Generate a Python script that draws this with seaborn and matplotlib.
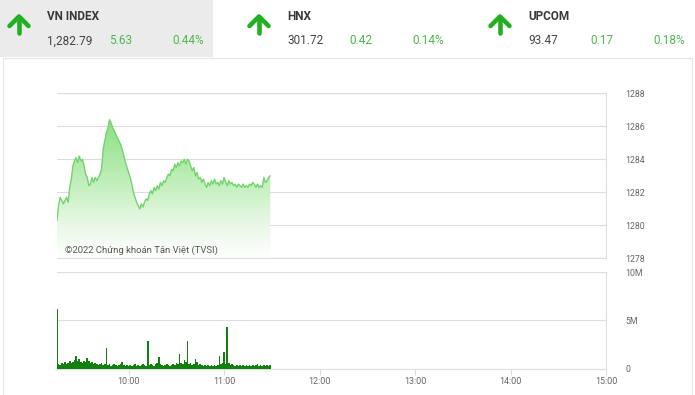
import numpy as np
import matplotlib
matplotlib.use("Agg")
import matplotlib.pyplot as plt
import seaborn as sns
from matplotlib.patches import Rectangle
from matplotlib.colors import LinearSegmentedColormap

# ---------------- data ----------------
# minutes after 09:15
price_minutes = list(range(135))
price_values = [
    1280.3, 1281.2, 1281.7, 1281.5, 1281.3, 1281.5, 1281.7, 1281.4, 1282.3, 1282.8,
    1283.6, 1283.9, 1284.1, 1283.8, 1284.2, 1283.9, 1284.0, 1283.6, 1283.1, 1282.9,
    1282.4, 1282.5, 1282.9, 1282.6, 1282.9, 1282.7, 1282.9, 1283.1, 1283.4, 1284.6,
    1285.1, 1285.6, 1285.9, 1286.4, 1286.2, 1285.9, 1285.7, 1285.5, 1285.3, 1285.1,
    1284.9, 1284.6, 1284.2, 1283.8, 1283.5, 1283.2, 1282.9, 1282.5, 1282.0, 1281.7,
    1281.4, 1281.2, 1281.0, 1281.3, 1281.1, 1281.4, 1281.6, 1281.5, 1281.9, 1282.1,
    1281.9, 1282.3, 1282.1, 1282.4, 1282.2, 1282.6, 1282.4, 1282.7, 1282.6, 1282.9,
    1283.1, 1283.0, 1283.4, 1283.3, 1283.7, 1283.5, 1283.8, 1283.6, 1283.9, 1283.8,
    1284.0, 1283.7, 1284.0, 1283.9, 1283.6, 1283.3, 1283.5, 1283.0, 1283.2, 1282.8,
    1282.9, 1282.6, 1282.8, 1282.5, 1282.3, 1282.6, 1282.4, 1282.7, 1282.5, 1282.8,
    1282.5, 1282.6, 1282.4, 1282.7, 1282.5, 1282.9, 1282.6, 1282.4, 1282.7, 1282.5,
    1282.6, 1282.4, 1282.5, 1282.3, 1282.5, 1282.4, 1282.3, 1282.5, 1282.3, 1282.4,
    1282.3, 1282.5, 1282.4, 1282.6, 1282.5, 1282.3, 1282.5, 1282.3, 1282.4, 1282.3,
    1282.9, 1282.6, 1282.7, 1282.9, 1283.0,
]
volume_minutes = list(range(135))
volume_values = [  # millions
    6.2,
    0.5, 0.4, 0.6, 0.5, 0.7, 0.5, 0.6, 0.8, 0.6, 0.7,
    0.9, 1.3, 0.8, 1.0, 0.7, 0.6, 0.8, 0.7, 1.05, 0.8,
    0.6, 0.7, 0.5, 0.6, 0.5, 0.4, 0.5, 0.6, 0.4, 0.5,
    2.1, 0.4, 0.5, 0.3, 0.4, 0.5, 0.4, 0.3, 0.4, 0.5,
    0.7, 0.4, 0.3, 0.4, 0.3, 0.4, 0.3, 0.4, 0.5, 0.3,
    0.4, 0.3, 0.4, 0.5, 0.4, 0.3, 2.85, 0.4, 0.5, 0.4,
    0.3, 0.5, 0.6, 1.2, 0.5, 0.4, 0.3, 0.4, 0.5, 0.4,
    0.3, 0.4, 0.5, 0.4, 0.6, 0.5, 1.5, 0.6, 0.5, 0.9,
    0.7, 2.8, 0.5, 0.6, 0.4, 0.5, 1.0, 0.7, 0.4, 0.5,
    0.4, 0.3, 0.4, 0.3, 0.4, 0.3, 0.4, 0.3, 0.4, 0.3,
    0.4, 1.3, 0.5, 0.6, 1.7, 0.5, 4.25, 0.6, 0.4, 0.5,
    0.4, 0.3, 0.4, 0.3, 0.4, 0.3, 0.4, 0.3, 0.4, 0.3,
    0.4, 0.3, 0.4, 0.3, 0.4, 0.5, 0.3, 0.4, 0.3, 0.4,
    0.3, 0.4, 0.3, 0.4,
]
time_ticks = [45, 105, 165, 225, 285, 345]
time_labels = ["10:00", "11:00", "12:00", "13:00", "14:00", "15:00"]
price_ticks = [1278, 1280, 1282, 1284, 1286, 1288]
volume_ticks = [0, 5, 10]
volume_labels = ["0", "5M", "10M"]

index_names = ["VN INDEX", "HNX", "UPCOM"]
index_values = ["1,282.79", "301.72", "93.47"]
index_changes = ["5.63", "0.42", "0.17"]
index_pcts = ["0.44%", "0.14%", "0.18%"]

# ---------------- style ----------------
sns.set_theme(style="white")
plt.rcParams["font.family"] = ["Roboto", "DejaVu Sans"]

W, H = 695, 395
fig = plt.figure(figsize=(W / 100, H / 100), dpi=100)
fig.patch.set_facecolor("white")

def frac(x0, y0, x1, y1):
    return [x0 / W, 1 - y1 / H, (x1 - x0) / W, (y1 - y0) / H]

GRID = "#dddddd"
TXT = "#666666"

# ---------------- price axes ----------------
ax = fig.add_axes(frac(57, 93.3, 606, 258.3))
ax.set_facecolor("none")
poly = ax.fill_between(price_minutes, price_values, 1278, color="none", lw=0)
cmap = LinearSegmentedColormap.from_list(
    "g", ["#ffffff", "#e6f7e3", "#c2efbc", "#a2e69b", "#84da7c"])
grad = np.linspace(1, 0, 256).reshape(-1, 1)
im = ax.imshow(grad, extent=[0, max(price_minutes), 1278, 1287], aspect="auto",
               cmap=cmap, origin="upper", zorder=1, interpolation="bilinear")
im.set_clip_path(poly.get_paths()[0], transform=ax.transData)
sns.lineplot(x=price_minutes, y=price_values, ax=ax, color="#72d46c", lw=1.0,
             zorder=3)
ax.set_xlim(0, 345)
ax.set_ylim(1278, 1288)
ax.set_yticks(price_ticks)
ax.set_yticklabels([str(t) for t in price_ticks])
ax.yaxis.tick_right()
ax.tick_params(axis="y", length=0, pad=14, labelsize=6.3, labelcolor=TXT)
ax.set_xticks([])
ax.grid(axis="y", color=GRID, lw=0.8)
ax.spines["left"].set_visible(False)
for s in ["top", "bottom", "right"]:
    ax.spines[s].set_color(GRID)
    ax.spines[s].set_linewidth(0.8)
ax.set_xlabel("")
ax.set_ylabel("")

# ---------------- volume axes ----------------
av = fig.add_axes(frac(57, 272, 606, 368.5))
av.set_facecolor("none")
av.bar(volume_minutes, volume_values, width=1.0, color="#12800f", lw=0, zorder=3)
av.set_xlim(0, 345)
av.set_ylim(0, 10)
av.set_yticks(volume_ticks)
av.set_yticklabels(volume_labels)
av.yaxis.tick_right()
av.tick_params(axis="y", length=0, pad=14, labelsize=6.3, labelcolor=TXT)
av.set_xticks(time_ticks)
av.set_xticklabels(time_labels)
av.tick_params(axis="x", length=4, width=0.8, color=GRID, pad=2,
               labelsize=6.5, labelcolor=TXT, bottom=True)
av.grid(axis="y", color=GRID, lw=0.8)
av.spines["left"].set_visible(False)
for s in ["top", "bottom", "right"]:
    av.spines[s].set_color(GRID)
    av.spines[s].set_linewidth(0.8)

# ---------------- overlay (header, frame) ----------------
ov = fig.add_axes([0, 0, 1, 1], zorder=10)
ov.set_facecolor("none")
ov.set_xlim(0, W)
ov.set_ylim(H, 0)
ov.axis("off")
ov.add_patch(Rectangle((0, 0), 213, 57, color="#ebebeb", lw=0, zorder=0))
ov.plot([3, 692, 692], [57.5, 57.5, H], color="#e6e6e6", lw=0.8)
ov.plot([3, 3], [57.5, H], color="#e6e6e6", lw=0.8)

title_x = [47, 287, 528]
GREEN = "#22b022"
for tx, name, val, chg, pct in zip(title_x, index_names, index_values,
                                   index_changes, index_pcts):
    ax_c = tx - 28
    ov.plot([ax_c - 9.5, ax_c, ax_c + 9.5], [26, 16.5, 26], color=GREEN, lw=3.3,
            solid_capstyle="round", solid_joinstyle="round")
    ov.plot([ax_c, ax_c], [17, 32.5], color=GREEN, lw=3.3, solid_capstyle="round")
    ov.text(tx, 16.5, name, fontsize=8.5, fontweight="bold", color="#3a3a3a",
            va="center", ha="left")
    ov.text(tx, 41, val, fontsize=8.5, color="#444444", va="center", ha="left")
    ov.text(tx + 62, 41, chg, fontsize=8.5, color="#4cb84c", va="center", ha="left")
    ov.text(tx + 157, 41, pct, fontsize=8.5, color="#4cb84c", va="center", ha="right")

ov.text(65, 250.5, "©2022 Chứng khoán Tân Việt (TVSI)", fontsize=6.8,
        color="#555555", va="center", ha="left")

fig.savefig("out.png", dpi=100)
